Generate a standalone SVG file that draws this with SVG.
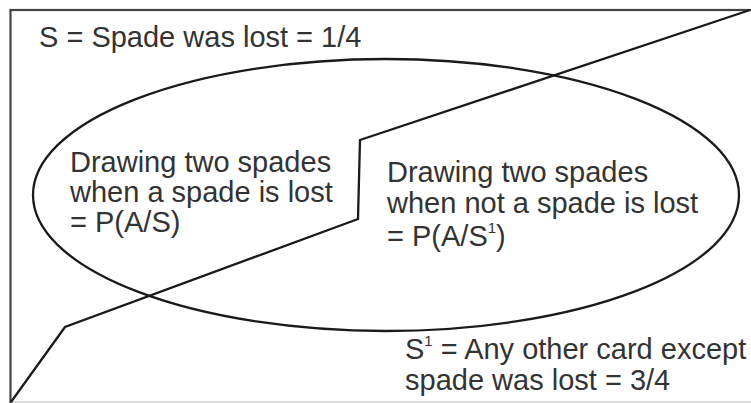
<svg xmlns="http://www.w3.org/2000/svg" width="751" height="403" viewBox="0 0 751 403">
<style>
.t{font-family:"Liberation Sans",Arial,sans-serif;font-size:29px;fill:#333}
.ln{fill:none;stroke:#1a1a1a;stroke-width:2.3;stroke-linejoin:miter}
.sup{font-size:15px}
</style>
<rect x="0" y="0" width="751" height="403" fill="#fff"/>
<g id="frame">
<line x1="10" y1="402" x2="751" y2="402" stroke="#d0d0d0" stroke-width="1.5"/>
<rect x="10.5" y="10" width="745" height="400" fill="none" stroke="#444" stroke-width="2.2"/>
</g>
<g id="event-S"><ellipse class="ln" cx="386" cy="195" rx="353" ry="136"/></g>
<g id="divider"><polyline class="ln" points="11,402 65,327 358,219 360,140 750,10"/></g>
<g id="labels">
<text class="t" x="39" y="47">S = Spade was lost = 1/4</text>
<text class="t" x="70" y="172">Drawing two spades</text>
<text class="t" x="70" y="202">when a spade is lost</text>
<text class="t" x="70" y="232">= P(A/S)</text>
<text class="t" x="387" y="182">Drawing two spades</text>
<text class="t" x="387" y="213">when not a spade is lost</text>
<text class="t" x="387" y="246">= P(A/S<tspan class="sup" dy="-13">1</tspan><tspan dy="13">)</tspan></text>
<text class="t" x="405" y="359">S<tspan class="sup" dy="-13">1</tspan><tspan dy="13"> = Any other card except</tspan></text>
<text class="t" x="405" y="390">spade was lost = 3/4</text>
</g>
</svg>
